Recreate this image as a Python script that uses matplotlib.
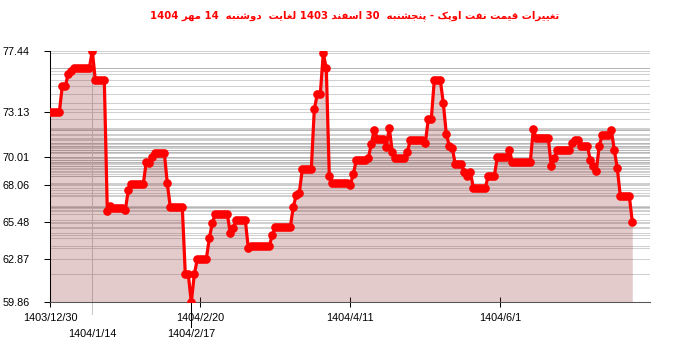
import re
import matplotlib
matplotlib.use("Agg")
import matplotlib.pyplot as plt
from matplotlib.ticker import FixedLocator, FixedFormatter

# OPEC basket price, one value per published day (index = trading day)
prices = [
    73.13, 73.13, 73.13, 73.13, 74.97, 74.97, 75.81, 76.04, 76.2, 76.2,
    76.2, 76.2, 76.2, 76.2, 77.44, 75.39, 75.39, 75.39, 75.39, 66.26,
    66.59, 66.43, 66.43, 66.43, 66.43, 66.3, 67.7, 68.13, 68.13, 68.13,
    68.13, 68.13, 69.68, 69.61, 70.01, 70.31, 70.31, 70.31, 70.31, 68.17,
    66.5, 66.5, 66.5, 66.5, 66.5, 61.81, 61.81, 59.86, 61.81, 62.87,
    62.87, 62.87, 62.87, 64.33, 65.38, 66.03, 66.03, 66.03, 66.03, 66.03,
    64.68, 65.03, 65.61, 65.61, 65.61, 65.61, 63.63, 63.79, 63.79, 63.79,
    63.79, 63.79, 63.79, 63.79, 64.56, 65.1, 65.1, 65.1, 65.1, 65.1,
    65.1, 66.54, 67.36, 67.52, 69.15, 69.15, 69.15, 69.15, 73.35, 74.41,
    74.41, 77.26, 76.21, 68.71, 68.17, 68.17, 68.17, 68.17, 68.17, 68.17,
    68.06, 68.82, 69.78, 69.78, 69.78, 69.78, 69.92, 70.91, 71.93, 71.3,
    71.3, 71.3, 70.73, 72.04, 70.36, 69.92, 69.92, 69.92, 69.92, 70.33,
    71.2, 71.2, 71.2, 71.2, 71.2, 70.97, 72.66, 72.66, 75.39, 75.39,
    75.39, 73.79, 71.61, 70.78, 70.62, 69.5, 69.5, 69.5, 68.97, 68.68,
    68.97, 67.88, 67.88, 67.88, 67.88, 67.88, 68.68, 68.68, 68.68, 69.99,
    69.99, 69.99, 69.99, 70.52, 69.65, 69.65, 69.65, 69.65, 69.65, 69.65,
    69.65, 71.95, 71.32, 71.32, 71.32, 71.32, 71.32, 69.36, 69.92, 70.52,
    70.52, 70.52, 70.52, 70.52, 70.99, 71.2, 71.2, 70.8, 70.8, 70.8,
    69.8, 69.38, 69.05, 70.8, 71.55, 71.55, 71.55, 71.9, 70.5, 69.22,
    67.29, 67.29, 67.29, 67.29, 65.48,
]
days = list(range(len(prices)))

y_ticks = [59.86, 62.87, 65.48, 68.06, 70.01, 73.13, 77.44]
x_ticks = [0, 50, 100, 150]
x_labels = ['1403/12/30', '1404/2/20', '1404/4/11', '1404/6/1']
max_day, min_day = 14, 47
extra_labels = ['1404/1/14', '1404/2/17']

title = 'تغییرات قیمت نفت اوپک - پنجشنبه  30 اسفند 1403 لغایت  دوشنبه  14 مهر 1404'

# matplotlib does no Arabic shaping, so pick presentation forms by hand
# (isolated, final, initial, medial); 2-form letters never join to the left
FORMS = {
    'ا': '\uFE8D\uFE8E', 'د': '\uFEA9\uFEAA', 'ر': '\uFEAD\uFEAE', 'و': '\uFEED\uFEEE',
    'ب': '\uFE8F\uFE90\uFE91\uFE92', 'پ': '\uFB56\uFB57\uFB58\uFB59',
    'ت': '\uFE95\uFE96\uFE97\uFE98', 'ج': '\uFE9D\uFE9E\uFE9F\uFEA0',
    'س': '\uFEB1\uFEB2\uFEB3\uFEB4', 'ش': '\uFEB5\uFEB6\uFEB7\uFEB8',
    'غ': '\uFECD\uFECE\uFECF\uFED0', 'ف': '\uFED1\uFED2\uFED3\uFED4',
    'ق': '\uFED5\uFED6\uFED7\uFED8', 'ک': '\uFB8E\uFB8F\uFB90\uFB91',
    'ل': '\uFEDD\uFEDE\uFEDF\uFEE0', 'م': '\uFEE1\uFEE2\uFEE3\uFEE4',
    'ن': '\uFEE5\uFEE6\uFEE7\uFEE8', 'ه': '\uFEE9\uFEEA\uFEEB\uFEEC',
    'ی': '\uFBFC\uFBFD\uFBFE\uFBFF',
}


def farsi(text):
    out = []
    for k, ch in enumerate(text):
        f = FORMS.get(ch)
        if f is None:
            out.append(ch)
            continue
        prev = text[k - 1] if k > 0 else ''
        nxt = text[k + 1] if k + 1 < len(text) else ''
        join_prev = len(FORMS.get(prev, '')) == 4
        join_next = len(f) == 4 and nxt in FORMS
        out.append(f[{(False, False): 0, (True, False): 1,
                      (False, True): 2, (True, True): 3}[(join_prev, join_next)]])
    vis = ''.join(out)[::-1]
    return re.sub(r'[0-9]+', lambda m: m.group(0)[::-1], vis)


plt.rcParams['font.family'] = ['Liberation Sans', 'DejaVu Sans']

fig = plt.figure(figsize=(7, 3.52), dpi=100)
ax = fig.add_axes([50.3 / 700, 49.7 / 352, 600 / 700, 251.6 / 352])

# one faint guide line per price level
for v in sorted(set(prices)):
    ax.axhline(v, color='#999999', alpha=0.45, lw=0.75, zorder=1)
ax.axvline(max_day, ymin=-0.045, ymax=1, color='#c8c8c8', lw=0.75,
           clip_on=False, zorder=1)
ax.axvline(min_day, ymin=-0.1, ymax=0, color='black', lw=0.75,
           clip_on=False, zorder=3)

ax.fill_between(days, prices, y_ticks[0], color='#963232', alpha=0.25,
                lw=0, zorder=2)
ax.plot(days, prices, color='#ff0000', lw=2.3, marker='o', ms=5.2,
        mec='#ff0000', mfc='#ff0000', zorder=4)

ax.set_xlim(0, 200)
ax.set_ylim(y_ticks[0], y_ticks[-1])

ax.set_yticks(y_ticks)
ax.set_yticklabels([f'{v:.2f}' for v in y_ticks])
ax.tick_params(axis='y', direction='out', length=4, width=0.75, pad=11,
               labelsize=7.8)

ax.xaxis.set_major_locator(FixedLocator(x_ticks))
ax.xaxis.set_major_formatter(FixedFormatter(x_labels))
ax.xaxis.set_minor_locator(FixedLocator([max_day, min_day]))
ax.xaxis.set_minor_formatter(FixedFormatter(extra_labels))
ax.tick_params(axis='x', which='major', direction='inout', length=7,
               width=0.75, pad=4, labelsize=7.8)
ax.tick_params(axis='x', which='minor', length=0, pad=19.5, labelsize=7.8)

for s in ['top', 'right']:
    ax.spines[s].set_visible(False)
ax.spines['left'].set_color('black')
ax.spines['left'].set_linewidth(0.75)
ax.spines['bottom'].set_color('#555555')
ax.spines['bottom'].set_linewidth(0.75)

fig.text(0.507, 0.957, farsi(title), color='#ff0000', fontsize=7.3,
         fontweight='bold', ha='center', va='center',
         family=['DejaVu Sans'])

fig.savefig('out.png', dpi=100)
